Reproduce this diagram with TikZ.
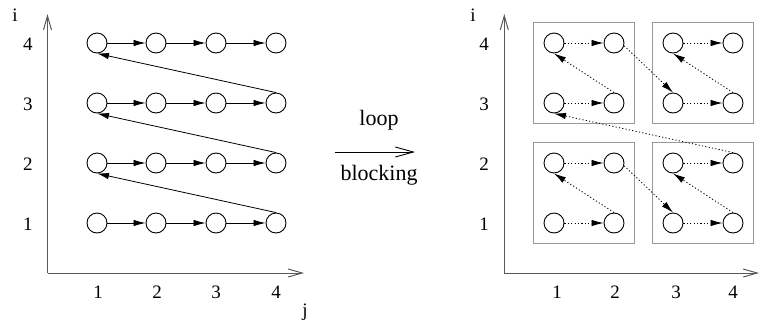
\documentclass[tikz,border=0pt]{standalone}
\usepackage{fontspec}
\setmainfont{Liberation Serif}
\usetikzlibrary{arrows.meta,fit}
\definecolor{axisgray}{gray}{0.35}
\definecolor{boxgray}{gray}{0.6}
\tikzstyle{point} = [circle, draw, line width=0.9pt, minimum size=20pt, inner sep=0pt]
\tikzstyle{arrow} = [line width=0.8pt, -{Latex[length=12pt,width=6.5pt]}]
\tikzstyle{dotarrow} = [arrow, dash pattern=on 1.2pt off 2.2pt]
\tikzstyle{axis} = [draw=axisgray, line width=1pt, -{Straight Barb[length=14pt,width=8pt]}]
\tikzstyle{bigarrow} = [line width=0.9pt, -{Straight Barb[length=18pt,width=10pt]}]
\tikzstyle{block} = [draw=boxgray, line width=0.9pt, inner sep=10pt]
\tikzstyle{lbl} = [font=\fontsize{19}{21}\selectfont, inner sep=0pt]

\begin{document}
\begin{tikzpicture}[x=1pt, y=-1pt]
      \useasboundingbox (0,0) rectangle (760,322);

      % Left: plain loop
      \coordinate (lo) at (47.5,273);
      \coordinate (ly) at (47.5,14);
      \coordinate (lx) at (304,273);
      \draw[axis] (lo) -- (ly);
      \draw[axis] (lo) -- (lx);
      \node[lbl] (li) at (15,15) {i};
      \node[lbl] (lj) at (305,312) {j};
      \foreach \i/\y in {1/223,2/163,3/103,4/43}{
        \node[lbl] (lr\i) at (28,\y+1) {\i};
        \foreach \j/\x in {1/97,2/156,3/216,4/276}
          \node[point] (a\i\j) at (\x,\y) {};
      }
      \foreach \j/\x in {1/98,2/157,3/216,4/276}
        \node[lbl] (lc\j) at (\x,292) {\j};

      % Left edges
      \foreach \i in {1,...,4}{
        \draw[arrow] (a\i1) -- (a\i2);
        \draw[arrow] (a\i2) -- (a\i3);
        \draw[arrow] (a\i3) -- (a\i4);
      }
      \draw[arrow] (a14.north) -- (a21.south);
      \draw[arrow] (a24.north) -- (a31.south);
      \draw[arrow] (a34.north) -- (a41.south);

      % Middle
      \coordinate (ms) at (335,152);
      \coordinate (me) at (415,152);
      \draw[bigarrow] (ms) -- (me);
      \node[font=\fontsize{22}{24}\selectfont, anchor=base] (loop) at (379,125) {loop};
      \node[font=\fontsize{22}{24}\selectfont, anchor=base] (blocking) at (379,180) {blocking};

      % Right: blocked loop
      \coordinate (ro) at (504.3,273);
      \coordinate (ry) at (504.3,14);
      \coordinate (rx) at (759,273);
      \draw[axis] (ro) -- (ry);
      \draw[axis] (ro) -- (rx);
      \node[lbl] (ri) at (473,15) {i};
      \foreach \i/\y in {1/223,2/163,3/103,4/43}{
        \node[lbl] (rr\i) at (484,\y+1) {\i};
        \foreach \j/\x in {1/554,2/614,3/673,4/733}
          \node[point] (b\i\j) at (\x,\y) {};
      }
      \foreach \j/\x in {1/557,2/615,3/676,4/733}
        \node[lbl] (rc\j) at (\x,292) {\j};

      % Blocks
      \node[block, fit=(b11)(b22)] (blk1) {};
      \node[block, fit=(b13)(b24)] (blk2) {};
      \node[block, fit=(b31)(b42)] (blk3) {};
      \node[block, fit=(b33)(b44)] (blk4) {};

      % Right edges
      \foreach \i in {1,...,4}{
        \draw[dotarrow] (b\i1) -- (b\i2);
        \draw[dotarrow] (b\i3) -- (b\i4);
      }
      \draw[dotarrow] (b12.north) -- (b21.south);
      \draw[dotarrow] (b22.-15) -- (b13.north);
      \draw[dotarrow] (b14.north) -- (b23.south);
      \draw[dotarrow] (b24.north) -- (b31.south);
      \draw[dotarrow] (b32.north) -- (b41.south);
      \draw[dotarrow] (b42.-15) -- (b33.north);
      \draw[dotarrow] (b34.north) -- (b43.south);
\end{tikzpicture}
\end{document}
